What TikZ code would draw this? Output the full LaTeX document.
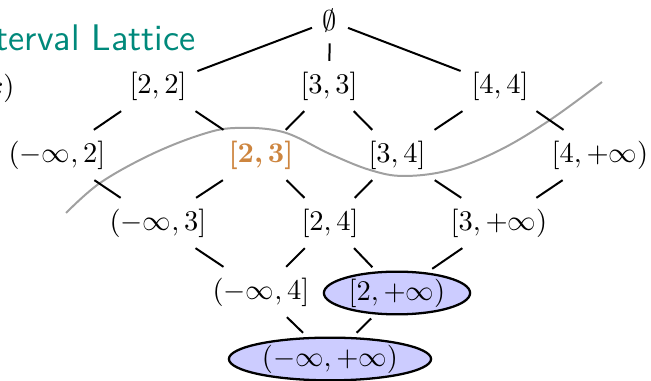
\documentclass[tikz,border=0pt]{standalone}
\usetikzlibrary{shapes.geometric}
\usepackage[dvipsnames]{xcolor}

\definecolor{titleteal}{RGB}{0,137,123}
\definecolor{meetorange}{RGB}{205,133,63}
\definecolor{cutgray}{RGB}{160,160,160}

\tikzset{
    lattice node/.style={inner sep=3.33pt, outer sep=0.5pt},
    lattice edge/.style={line width=0.7pt},
    marked/.style={
        ellipse,
        draw,
        line width=0.8pt,
        fill=blue!20,      % light blue filling
        inner xsep=1.2pt,
        inner ysep=0.3pt,
        outer sep=2pt
    }
}

\begin{document}
\begin{tikzpicture}[x=0.351pt, y=-0.351pt]
\useasboundingbox (0,0) rectangle (651,381);

% cut-off slide title and text
\node[anchor=base west, text=titleteal, font=\sffamily\fontsize{13}{15}\selectfont, inner sep=0pt] (title) at (-5,51) {terval Lattice};
\node[anchor=base east, inner sep=0pt] (side) at (15,96) {$x)$};

% the separating curve
\draw[cutgray, line width=0.7pt] plot[smooth, tension=0.6] coordinates {
    (66,213) (100,183) (150,155) (200,135) (235,128) (283,132) (330,154)
    (370,170) (404,176) (450,170) (500,150) (550,120) (602,82)};

% lattice elements
\node[lattice node] (top) at (330,21) {$\emptyset$};
\node[lattice node] (i22) at (158,86) {$[2,2]$};
\node[lattice node] (i33) at (329,86) {$[3,3]$};
\node[lattice node] (i44) at (500,86) {$[4,4]$};
\node[lattice node] (m2) at (57,155) {$(-\infty,2]$};
\node[lattice node, text=meetorange, font=\bfseries] (i23) at (261,155) {[2,\,3]};
\node[lattice node] (i34) at (397,155) {$[3,4]$};
\node[lattice node] (p4) at (600,155) {$[4,+\infty)$};
\node[lattice node] (m3) at (158,223) {$(-\infty,3]$};
\node[lattice node] (i24) at (330,223) {$[2,4]$};
\node[lattice node] (p3) at (499,223) {$[3,+\infty)$};
\node[lattice node] (m4) at (261,292) {$(-\infty,4]$};
\node[marked] (p2) at (397,293) {$[2,+\infty)$};
\node[marked] (all) at (330,359) {$(-\infty,+\infty)$};

% order relation
\foreach \a/\b in {top/i22, top/i33, top/i44,
                   i22/m2, i22/i23, i33/i23, i33/i34, i44/i34, i44/p4,
                   m2/m3, i23/m3, i23/i24, i34/i24, i34/p3, p4/p3,
                   m3/m4, i24/m4, i24/p2, p3/p2,
                   m4/all, p2/all}
    \draw[lattice edge] (\a) -- (\b);
\end{tikzpicture}
\end{document}
